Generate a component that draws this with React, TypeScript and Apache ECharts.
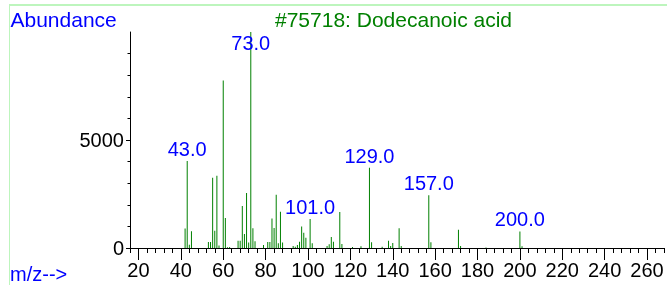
import React, { useEffect, useRef } from "react";
import * as echarts from "echarts";

const titleText = "#75718: Dodecanoic acid";
const yAxisName = "Abundance";
const xAxisName = "m/z-->";

const mz = [
  42, 43, 44, 45, 53, 54, 55, 56, 57, 58, 60, 61, 62, 63, 67, 68, 69, 70, 71, 72,
  73, 74, 75, 79, 81, 82, 83, 84, 85, 86, 87, 88, 93, 94, 95, 96, 97, 98, 99, 101,
  102, 109, 110, 111, 112, 115, 116, 121, 125, 129, 130, 135, 138, 139, 140, 143,
  144, 157, 158, 171, 172, 184, 200, 201,
];
const abundance = [
  900, 4030, 150, 780, 280, 280, 3250, 800, 3350, 120, 7750, 1390, 40, 50, 340, 340,
  1950, 650, 2550, 250, 9999, 910, 310, 140, 280, 280, 1360, 930, 2470, 216, 1680,
  250, 90, 60, 140, 290, 990, 710, 480, 1340, 216, 90, 170, 505, 290, 1670, 185, 46,
  85, 3710, 270, 60, 340, 93, 230, 910, 90, 2445, 270, 840, 93, 20, 765, 80,
];
const labeledMz = [43, 73, 101, 129, 157, 200];

const xMajorTicks = [20, 40, 60, 80, 100, 120, 140, 160, 180, 200, 220, 240, 260];
const xMinorTicks = [
  16, 20, 24, 28, 32, 36, 40, 44, 48, 52, 56, 60, 64, 68, 72, 76, 80, 84, 88, 92, 96,
  100, 104, 108, 112, 116, 120, 124, 128, 132, 136, 140, 144, 148, 152, 156, 160, 164,
  168, 172, 176, 180, 184, 188, 192, 196, 200, 204, 208, 212, 216, 220, 224, 228, 232,
  236, 240, 244, 248, 252, 256, 260, 264, 268,
];
const yMajorTicks = [0, 5000];
const yMinorTicks = [1000, 2000, 3000, 4000, 5000, 6000, 7000, 8000, 9000];

export default function App() {
  const ref = useRef<HTMLDivElement>(null);
  useEffect(() => {
    const chart = echarts.init(ref.current!, null, { renderer: "svg" });
    const font = "'Liberation Sans', Arial, sans-serif";
    const blue = "#0000ff";
    const green = "#008000";
    const data = mz.map((m, i) => {
      const item: any = { value: [m, abundance[i]] };
      if (labeledMz.includes(m)) {
        item.label = {
          show: true,
          position: "top",
          distance: 2,
          formatter: m.toFixed(1),
          color: blue,
          fontSize: 20,
          fontFamily: font,
        };
        if (m === 73) item.label.offset = [0, 23];
      }
      return item;
    });
    chart.setOption({
      animation: false,
      grid: { left: 130, top: 32, width: 534, height: 216 },
      xAxis: [
        {
          type: "value",
          min: 16,
          max: 268,
          position: "bottom",
          axisLine: { show: true, onZero: false, lineStyle: { color: "#000", width: 1 } },
          axisTick: { show: true, customValues: xMajorTicks, length: 12, lineStyle: { color: "#000" } },
          axisLabel: {
            show: true,
            customValues: xMajorTicks,
            formatter: (v: number) => String(v),
            margin: 12,
            color: "#000",
            fontSize: 20,
            fontFamily: font,
          },
          splitLine: { show: false },
        },
        {
          type: "value",
          min: 16,
          max: 268,
          position: "bottom",
          offset: 0,
          axisLine: { show: false, onZero: false },
          axisTick: { show: true, customValues: xMinorTicks, length: 5, lineStyle: { color: "#000" } },
          axisLabel: { show: false },
          splitLine: { show: false },
        },
      ],
      yAxis: [
        {
          type: "value",
          min: 0,
          max: 10000,
          position: "left",
          axisLine: { show: true, onZero: false, lineStyle: { color: "#000", width: 1 } },
          axisTick: { show: true, customValues: yMajorTicks, length: 4, lineStyle: { color: "#000" } },
          axisLabel: {
            show: true,
            customValues: yMajorTicks,
            formatter: (v: number) => String(v),
            margin: 6,
            color: "#000",
            fontSize: 20,
            fontFamily: font,
          },
          splitLine: { show: false },
        },
        {
          type: "value",
          min: 0,
          max: 10000,
          position: "left",
          offset: 0,
          axisLine: { show: false, onZero: false },
          axisTick: { show: true, customValues: yMinorTicks, length: 2.5, lineStyle: { color: "#000" } },
          axisLabel: { show: false },
          splitLine: { show: false },
        },
      ],
      series: [
        {
          type: "bar",
          xAxisIndex: 0,
          yAxisIndex: 0,
          barWidth: 1,
          itemStyle: { color: green },
          data,
        },
      ],
      graphic: [
        {
          type: "line",
          shape: { x1: 9.5, y1: 4, x2: 9.5, y2: 285 },
          style: { stroke: "#bdf5bd", lineWidth: 1 },
        },
        {
          type: "line",
          shape: { x1: 9, y1: 5, x2: 667, y2: 5 },
          style: { stroke: "#bdf5bd", lineWidth: 2 },
        },
        {
          type: "text",
          x: 10.5,
          y: 9,
          style: { text: yAxisName, fill: blue, font: `21px ${font}`, verticalAlign: "top" },
        },
        {
          type: "text",
          x: 275,
          y: 9,
          style: { text: titleText, fill: green, font: `21px ${font}`, verticalAlign: "top" },
        },
        {
          type: "text",
          x: 10,
          y: 264,
          style: { text: xAxisName, fill: blue, font: `20px ${font}`, verticalAlign: "top" },
        },
      ],
    });
    return () => chart.dispose();
  }, []);
  return (
    <div
      ref={ref}
      style={{ position: "fixed", left: 0, top: 0, width: 667, height: 285 }}
    />
  );
}
